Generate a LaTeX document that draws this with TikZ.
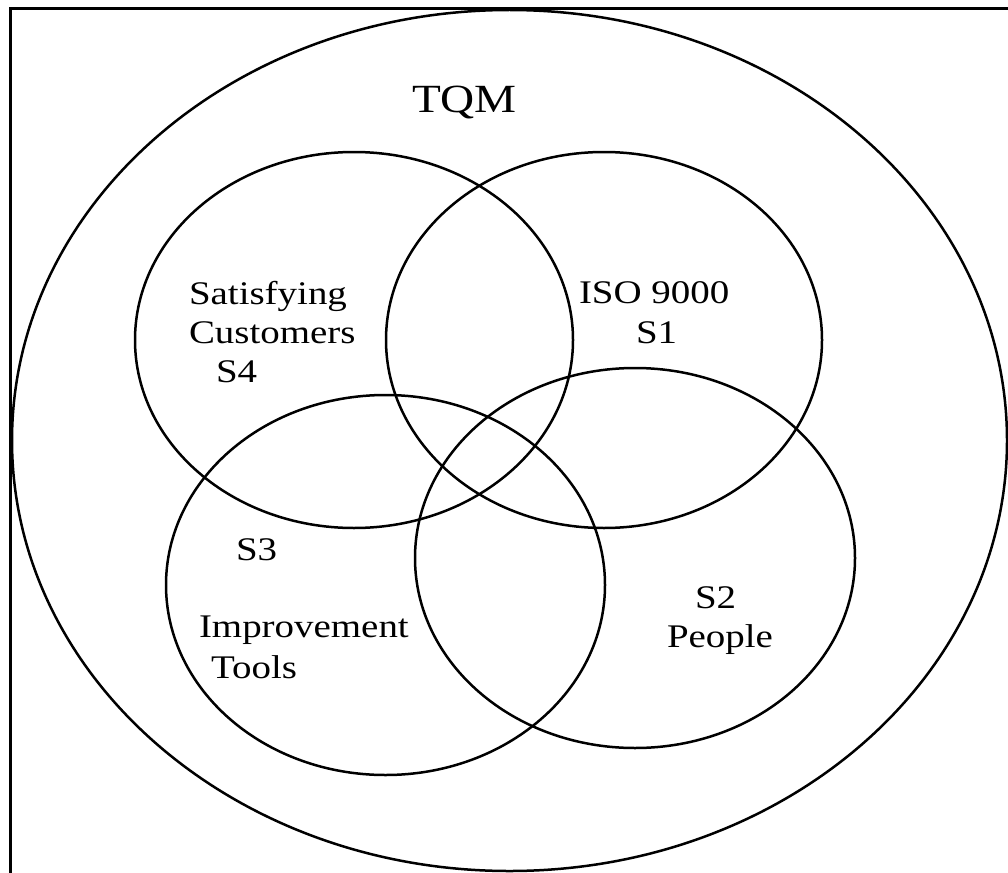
\documentclass[tikz,border=0pt]{standalone}
\usepackage{fontspec}
\setmainfont{Liberation Serif}[FakeStretch=1.18]
\usetikzlibrary{shapes.geometric}
\begin{document}
\begin{tikzpicture}[x=1pt,y=-1pt,
  ring/.style={draw, ellipse, line width=2.5pt, inner sep=0pt, outer sep=0pt},
  lbl/.style={font=\fontsize{33}{39}\selectfont, anchor=base west, inner sep=0pt, outer sep=0pt},
  title/.style={font=\fontsize{40}{46}\selectfont, anchor=base west, inner sep=0pt, outer sep=0pt}]
\useasboundingbox (0,0) rectangle (1008,872);
\clip (0,0) rectangle (1008,872);
\fill[white] (0,0) rectangle (1008,872);
% frame (right and bottom sides fall outside the picture)
\draw[line width=3pt] (10.5,8.5) rectangle (1040,900);
% ellipses
\node[ring, minimum width=995pt, minimum height=861pt] (tqm) at (509.5,440.5) {};
\node[ring, minimum width=438pt, minimum height=376pt] (s4) at (354,340) {};
\node[ring, minimum width=436pt, minimum height=376pt] (s1) at (604,340) {};
\node[ring, minimum width=439pt, minimum height=380pt] (s3) at (385.5,585) {};
\node[ring, minimum width=440pt, minimum height=380pt] (s2) at (635,558) {};
% labels
\node[title] (tTQM) at (412,113) {TQM};
\node[lbl] (tSat) at (189,304) {Satisfying};
\node[lbl] (tCus) at (189,343) {Customers};
\node[lbl] (tS4) at (216,382) {S4};
\node[lbl] (tISO) at (579,303) {ISO 9000};
\node[lbl] (tS1) at (636,343) {S1};
\node[lbl] (tS3) at (236,560) {S3};
\node[lbl] (tImp) at (199,637) {Improvement};
\node[lbl] (tTools) at (211,678) {Tools};
\node[lbl] (tS2) at (695,608) {S2};
\node[lbl] (tPeople) at (667,647) {People};
\end{tikzpicture}
\end{document}
